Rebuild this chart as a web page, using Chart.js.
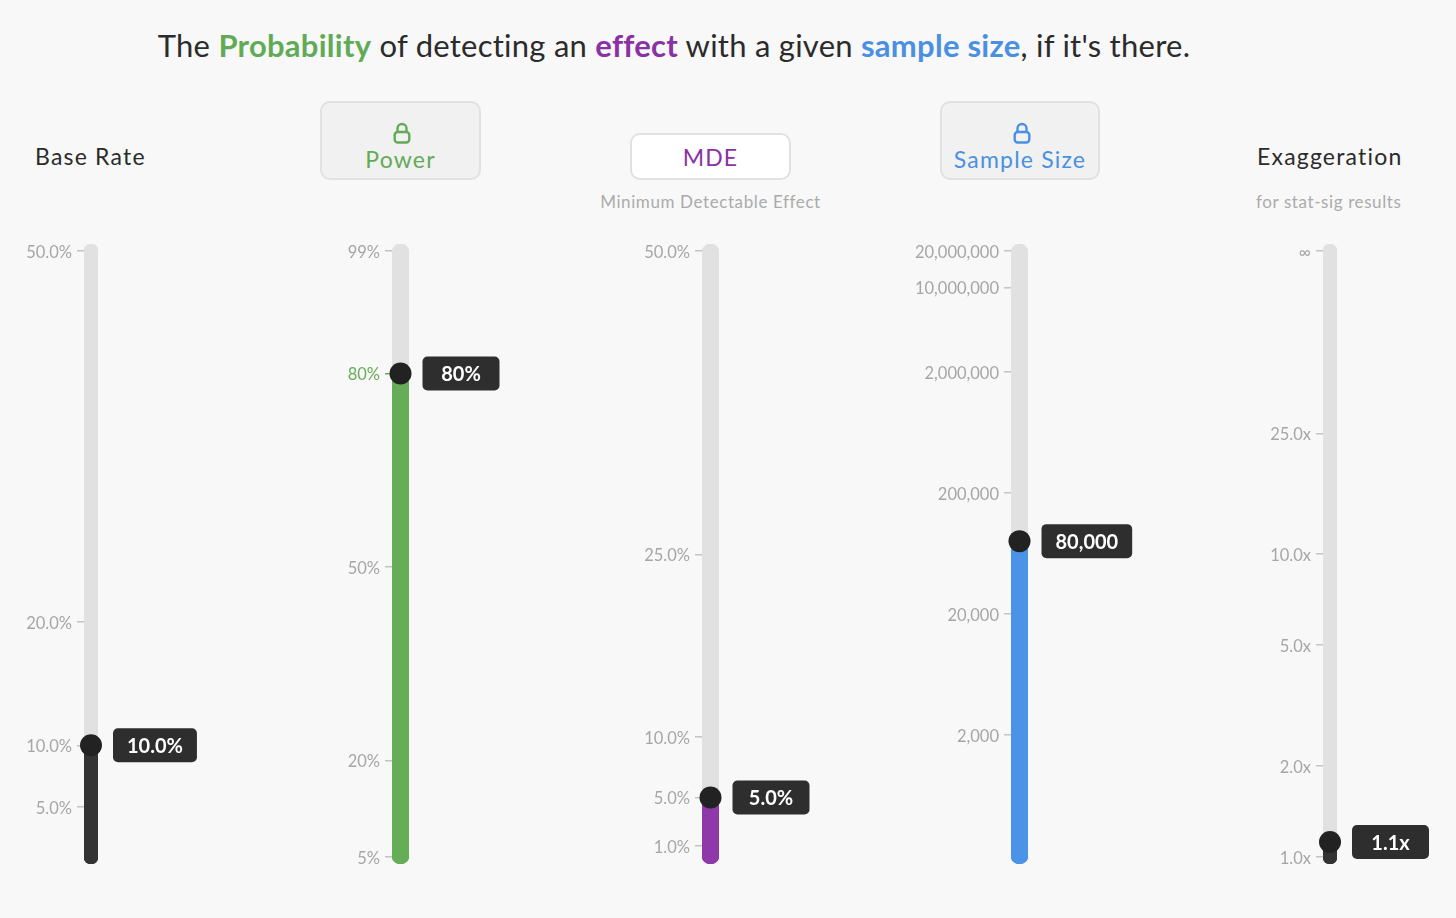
<!DOCTYPE html>
<html>
<head>
<meta charset="utf-8">
<script src="https://cdn.jsdelivr.net/npm/chart.js@4.4.1/dist/chart.umd.min.js"></script>
<style>
body{margin:0;background:#f8f8f8;font-family:Lato,"Noto Sans",sans-serif;width:1456px;height:918px;overflow:hidden;position:relative;color:#2b2b2b}
.abs{position:absolute}
#title{left:0;top:22px;width:1348px;text-align:center;font-size:31px;line-height:46px;color:#2b2b2b;letter-spacing:0.25px}
#title b{font-weight:700}
.head{font-size:23px;line-height:30px;letter-spacing:1.2px}
.box{border:2px solid #e1e1e1;border-radius:10px;box-sizing:border-box;text-align:center}
.sub{font-size:17px;color:#ababab;line-height:24px;letter-spacing:0.6px}
.slider{top:0;height:918px;pointer-events:none}
</style>
</head>
<body>
<div id="title" class="abs">The <b style="color:#62ab56">Probability</b> of detecting an <b style="color:#8a31a3">effect</b> with a given <b style="color:#4a90e2">sample size</b>, if it's there.</div>

<div class="abs head" style="left:35px;top:141px">Base Rate</div>

<div class="abs box" style="left:320px;top:101px;width:161px;height:79px;background:#f1f1f1">
  <svg class="abs" style="left:70px;top:18px" width="20" height="24" viewBox="0 0 20 24"><path d="M5.5 11V7.5a4.5 4.5 0 0 1 9 0V11" fill="none" stroke="#62ab56" stroke-width="2.4"/><rect x="2.7" y="11" width="14.6" height="10.5" rx="3" fill="none" stroke="#62ab56" stroke-width="2.4"/></svg>
  <div class="abs head" style="left:0;width:157px;top:41px;color:#62ab56">Power</div>
</div>

<div class="abs box" style="left:630px;top:133px;width:161px;height:47px;background:#fff">
  <div class="abs head" style="left:0;width:157px;top:7px;color:#8a31a3">MDE</div>
</div>
<div class="abs sub" style="left:560px;width:301px;text-align:center;top:190px">Minimum Detectable Effect</div>

<div class="abs box" style="left:940px;top:101px;width:160px;height:79px;background:#f1f1f1">
  <svg class="abs" style="left:70px;top:18px" width="20" height="24" viewBox="0 0 20 24"><path d="M5.5 11V7.5a4.5 4.5 0 0 1 9 0V11" fill="none" stroke="#4a90e2" stroke-width="2.4"/><rect x="2.7" y="11" width="14.6" height="10.5" rx="3" fill="none" stroke="#4a90e2" stroke-width="2.4"/></svg>
  <div class="abs head" style="left:0;width:156px;top:41px;color:#4a90e2">Sample Size</div>
</div>

<div class="abs head" style="left:1257px;top:141px">Exaggeration</div>
<div class="abs sub" style="left:1256px;top:190px">for stat-sig results</div>

<div id="s0" class="abs slider"><canvas width="10" height="918"></canvas></div>
<div id="s1" class="abs slider"><canvas width="10" height="918"></canvas></div>
<div id="s2" class="abs slider"><canvas width="10" height="918"></canvas></div>
<div id="s3" class="abs slider"><canvas width="10" height="918"></canvas></div>
<div id="s4" class="abs slider"><canvas width="10" height="918"></canvas></div>

<script>
// slider values and tick marks
const baseRateTicks=[5,10,20,50]
const baseRateLabels=['5.0%','10.0%','20.0%','50.0%']
const baseRateValue=10
const baseRateText='10.0%'

const powerTicks=[5,20,50,80,99]
const powerLabels=['5%','20%','50%','80%','99%']
const powerValue=80
const powerText='80%'

const mdeTicks=[1,5,10,25,50]
const mdeLabels=['1.0%','5.0%','10.0%','25.0%','50.0%']
const mdeValue=5
const mdeText='5.0%'

const sampleTicks=[2000,20000,200000,2000000,10000000,20000000]
const sampleLabels=['2,000','20,000','200,000','2,000,000','10,000,000','20,000,000']
const sampleValue=80000
const sampleText='80,000'

const exagTicks=[1,2,5,10,25,100]
const exagLabels=['1.0x','2.0x','5.0x','10.0x','25.0x','∞']
const exagValue=1.12
const exagText='1.1x'

const AXIS_W=130, RIGHT_PAD=150

const valueBox={
  id:'valueBox',
  afterDatasetsDraw(chart,args,opts){
    const c=chart.ctx
    const y=chart.scales.y.getPixelForValue(opts.value)
    const x=chart.scales.x.getPixelForValue(0)+22
    c.save()
    c.font='bold 20px Lato'
    const tw=c.measureText(opts.text).width
    const w=Math.max(77,tw+28), h=34
    c.fillStyle='#2e2e2e'
    c.beginPath()
    c.roundRect(x,y-h/2,w,h,5)
    c.fill()
    c.fillStyle='#fff'
    c.textAlign='center'
    c.textBaseline='middle'
    c.fillText(opts.text,x+w/2,y+1)
    c.restore()
  }
}

function makeSlider(id,s){
  const div=document.getElementById(id)
  const cw=AXIS_W+s.w+RIGHT_PAD
  div.style.left=(s.cx-s.w/2-AXIS_W)+'px'
  div.style.width=cw+'px'
  const cv=div.querySelector('canvas')
  cv.width=cw
  cv.style.width=cw+'px'
  cv.style.height='918px'
  new Chart(cv,{
    type:'bar',
    data:{
      labels:[s.name],
      datasets:[
        {type:'line',data:[s.value],showLine:false,pointRadius:11,pointHoverRadius:11,
         pointBackgroundColor:'#222',pointBorderWidth:0,clip:false,order:0},
        {data:[[s.min,s.value]],backgroundColor:s.fill,barThickness:s.w,borderRadius:s.w/2,
         borderSkipped:false,grouped:false,order:1},
        {data:[[s.min,s.max]],backgroundColor:'#e1e1e1',barThickness:s.w,borderRadius:s.w/2,
         borderSkipped:false,grouped:false,order:2}
      ]
    },
    options:{
      responsive:false,
      animation:false,
      layout:{padding:{top:244,bottom:54,left:0,right:RIGHT_PAD}},
      plugins:{legend:{display:false},tooltip:{enabled:false},valueBox:{value:s.value,text:s.text}},
      scales:{
        x:{display:false},
        y:{
          type:s.type,min:s.min,max:s.max,
          afterBuildTicks:sc=>{sc.ticks=s.ticks.map(v=>({value:v}))},
          afterFit:sc=>{sc.width=AXIS_W},
          ticks:{
            autoSkip:false,padding:5,labelOffset:1.5,
            callback:(v,i)=>s.labels[i],
            color:c=>(c.tick&&c.tick.value===s.hi)?s.fill:'#a6a6a6',
            font:{family:'Lato',size:16.5}
          },
          grid:{drawOnChartArea:false,drawTicks:true,tickLength:7,lineWidth:1.5,
            color:c=>(c.tick&&c.tick.value===s.hi)?s.fill:'#c4c4c4'},
          border:{display:false}
        }
      }
    },
    plugins:[valueBox]
  })
}

makeSlider('s0',{name:'Base Rate',cx:90.5,w:14,type:'linear',min:0.39,max:50.57,
  ticks:baseRateTicks,labels:baseRateLabels,value:baseRateValue,text:baseRateText,fill:'#333333'})
makeSlider('s1',{name:'Power',cx:400.5,w:17,type:'linear',min:3.91,max:100.09,hi:80,
  ticks:powerTicks,labels:powerLabels,value:powerValue,text:powerText,fill:'#66ad58'})
makeSlider('s2',{name:'MDE',cx:710.5,w:17,type:'linear',min:-0.48,max:50.58,
  ticks:mdeTicks,labels:mdeLabels,value:mdeValue,text:mdeText,fill:'#8e38a9'})
makeSlider('s3',{name:'Sample Size',cx:1019.5,w:17,type:'logarithmic',min:171.7,max:22850000,
  ticks:sampleTicks,labels:sampleLabels,value:sampleValue,text:sampleText,fill:'#4b93e6'})
makeSlider('s4',{name:'Exaggeration',cx:1330,w:14,type:'logarithmic',min:0.948,max:105.5,
  ticks:exagTicks,labels:exagLabels,value:exagValue,text:exagText,fill:'#333333'})
</script>
</body>
</html>
